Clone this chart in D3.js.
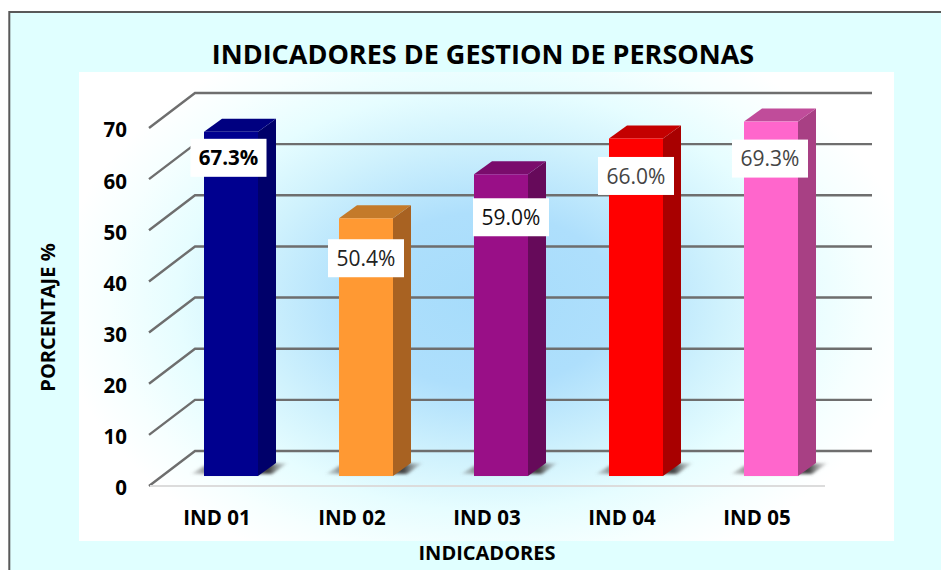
<!DOCTYPE html>
<html><head><meta charset="utf-8">
<script src="https://cdnjs.cloudflare.com/ajax/libs/d3/7.9.0/d3.min.js"></script>
<style>html,body{margin:0;padding:0;background:#fff}svg{display:block}text{font-family:"Open Sans","Noto Sans",sans-serif}</style>
</head><body><svg id="c" width="941" height="570"></svg>
<script>
const categories=["IND 01","IND 02","IND 03","IND 04","IND 05"];
const values=[67.3,50.4,59.0,66.0,69.3];
const labels=["67.3%","50.4%","59.0%","66.0%","69.3%"];
const barColors=["#00008f","#ff9933","#990f87","#ff0000","#ff66cc"];
const topColors=["#000080","#c47a2a","#7a0c6c","#c40000","#c04c9a"];
const sideColors=["#00006a","#a86222","#660a5a","#a80000","#a84084"];
const labelColors=["#000","#222","#111","#444","#444"];
const labelBold=[true,false,false,false,false];
const labelShiftX=[-2.5,0,10,0,-1];
const labelShiftY=[7,21,24,18.5,18];
const yTicks=[0,10,20,30,40,50,60,70];
const svg=d3.select("#c");
const defs=svg.append("defs");
const rg=defs.append("radialGradient").attr("id","bg").attr("gradientUnits","userSpaceOnUse").attr("cx",487).attr("cy",300).attr("r",430).attr("gradientTransform","translate(487 300) scale(1 .68) translate(-487 -300)");
[[0,"#a6dcfb"],[.3,"#aedffc"],[.55,"#d0f2fd"],[.72,"#e6fdff"],[.88,"#f6ffff"],[1,"#ffffff"]].forEach(s=>rg.append("stop").attr("offset",s[0]).attr("stop-color",s[1]));
const f=defs.append("filter").attr("id","blur").attr("x","-20%").attr("y","-60%").attr("width","140%").attr("height","220%");
f.append("feGaussianBlur").attr("stdDeviation",1.6);
const fl=defs.append("filter").attr("id","soft");fl.append("feGaussianBlur").attr("stdDeviation",.7);
const sg=defs.append("linearGradient").attr("id","sh");
[[0,"#777",.2],[.2,"#666",.9],[.8,"#444",1],[1,"#777",.1]].forEach(s=>sg.append("stop").attr("offset",s[0]).attr("stop-color",s[1]).attr("stop-opacity",s[2]));

svg.append("rect").attr("x",9.3).attr("y",12).attr("width",960).attr("height",570).attr("fill","#e0ffff").attr("stroke","#595959").attr("stroke-width",2);
svg.append("rect").attr("x",79).attr("y",72).attr("width",815).attr("height",469).attr("fill","url(#bg)");

const y=d3.scaleLinear().domain([0,70]).range([486,128]);
const x=d3.scaleBand().domain(categories).range([163.5,838.5]).paddingInner(0.6).paddingOuter(0.3);
const dx=46,dy=-35,bx=18,by=-13;

const grid=svg.append("g").attr("filter","url(#soft)");
yTicks.forEach(t=>{
 grid.append("path").attr("fill","none").attr("stroke","#6e6e6e").attr("stroke-width",2.4)
  .attr("d",`M149 ${y(t)}L${149+dx} ${y(t)+dy}L872 ${y(t)+dy}`);
});
svg.append("line").attr("x1",150).attr("x2",825).attr("y1",y(0)).attr("y2",y(0)).attr("stroke","#dcdcdc").attr("stroke-width",2);

const base=476;
const h=d=>y(0)-y(d);
categories.forEach((c,i)=>{
 const x0=x(c),w=x.bandwidth(),t=base-h(values[i]);
 svg.append("path").attr("filter","url(#blur)").attr("fill","url(#sh)")
  .attr("d",`M${x0-13} ${base-2}L${x0} ${base-10}L${x0+w+bx+12} ${base-13}L${x0+w+bx-4} ${base-2}Z`);
 svg.append("path").attr("fill",sideColors[i]).attr("d",`M${x0+w} ${t}L${x0+w+bx} ${t+by}L${x0+w+bx} ${base+by}L${x0+w} ${base}Z`);
 svg.append("path").attr("fill",topColors[i]).attr("d",`M${x0} ${t}L${x0+bx} ${t+by}L${x0+w+bx} ${t+by}L${x0+w} ${t}Z`);
 svg.append("rect").attr("x",x0).attr("y",t).attr("width",w).attr("height",base-t).attr("fill",barColors[i]);
});
categories.forEach((c,i)=>{
 const cx=x(c)+x.bandwidth()/2+labelShiftX[i],t=base-h(values[i])+labelShiftY[i];
 svg.append("rect").attr("x",cx-38).attr("y",t).attr("width",76).attr("height",38).attr("fill","#fff");
 svg.append("text").attr("x",cx).attr("y",t+19).attr("dy",".36em").attr("text-anchor","middle")
  .attr("font-size",labelBold[i]?20.5:21).attr("font-weight",labelBold[i]?700:400).attr("fill",labelColors[i]).text(labels[i]);
});
yTicks.forEach(t=>svg.append("text").attr("x",127).attr("y",y(t)+2).attr("dy",".36em").attr("text-anchor","end").attr("font-size",20.5).attr("font-weight",700).attr("fill","#000").text(t));
categories.forEach(c=>svg.append("text").attr("x",x(c)+x.bandwidth()/2-14).attr("y",525).attr("text-anchor","middle").attr("font-size",20.5).attr("font-weight",700).attr("fill","#000").text(c));
svg.append("text").attr("x",483).attr("y",64).attr("text-anchor","middle").attr("font-size",27).attr("font-weight",700).attr("fill","#000").text("INDICADORES DE GESTION DE PERSONAS");
svg.append("text").attr("x",487).attr("y",560).attr("text-anchor","middle").attr("font-size",20).attr("font-weight",700).attr("fill","#000").text("INDICADORES");
svg.append("text").attr("transform","translate(55,317.5) rotate(-90)").attr("text-anchor","middle").attr("font-size",20).attr("font-weight",700).attr("fill","#000").text("PORCENTAJE %");
</script></body></html>
